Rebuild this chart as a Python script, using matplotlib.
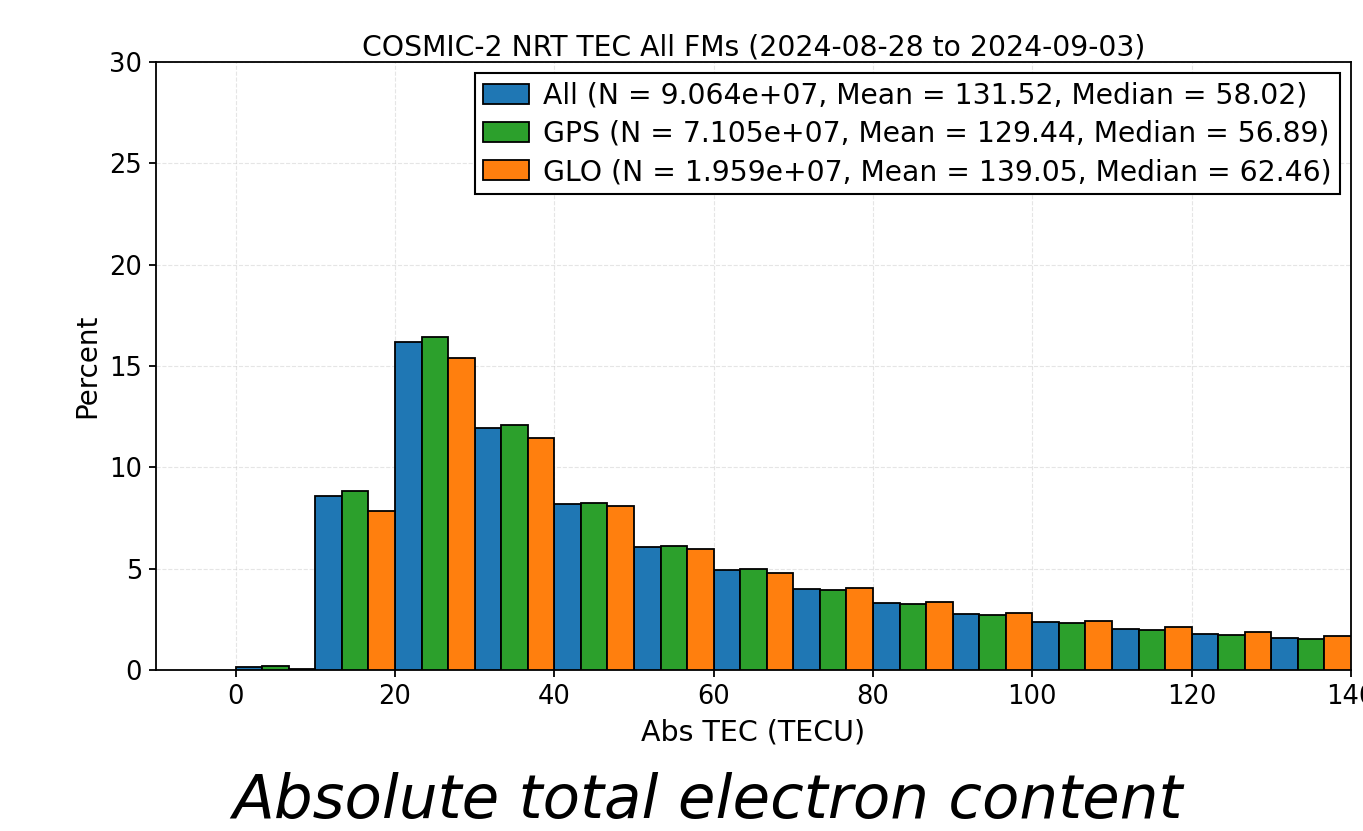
import numpy as np
import matplotlib
matplotlib.use("Agg")
import matplotlib.pyplot as plt

# Bin left edges (TECU), 10 TECU wide
bin_edges = [0, 10, 20, 30, 40, 50, 60, 70, 80, 90, 100, 110, 120, 130]

# Percent per bin
pct_all = [0.15, 8.58, 16.20, 11.92, 8.19, 6.07, 4.93, 4.00, 3.29, 2.76, 2.35, 2.01, 1.78, 1.56]
pct_gps = [0.20, 8.81, 16.41, 12.07, 8.24, 6.10, 4.98, 3.96, 3.27, 2.73, 2.32, 1.99, 1.73, 1.53]
pct_glo = [0.05, 7.87, 15.42, 11.43, 8.07, 5.95, 4.77, 4.05, 3.34, 2.81, 2.40, 2.10, 1.86, 1.66]

labels = [
    "All (N = 9.064e+07, Mean = 131.52, Median = 58.02)",
    "GPS (N = 7.105e+07, Mean = 129.44, Median = 56.89)",
    "GLO (N = 1.959e+07, Mean = 139.05, Median = 62.46)",
]
colors = ["#1f77b4", "#2ca02c", "#ff7f0e"]

fig = plt.figure(figsize=(13.63, 8.31), dpi=100, facecolor="white")
ax = fig.add_axes([0.1145, 0.1937, 0.8767, 0.7317])

bin_w = 10
bar_w = bin_w / 3
x = np.array(bin_edges, dtype=float)
for i, (vals, lab, col) in enumerate(zip([pct_all, pct_gps, pct_glo], labels, colors)):
    ax.bar(x + i * bar_w, vals, width=bar_w, align="edge", color=col,
           edgecolor="black", linewidth=1.3, label=lab, zorder=3)

ax.set_xlim(-10, 140)
ax.set_ylim(0, 30)
ax.set_xticks(np.arange(0, 141, 20))
ax.set_yticks(np.arange(0, 31, 5))
ax.tick_params(labelsize=18.5, width=1.3, length=5, pad=5)
for sp in ax.spines.values():
    sp.set_linewidth(1.3)

ax.grid(axis="both", linestyle="--", alpha=.5, color="#cccccc", zorder=0)
ax.set_axisbelow(True)

ax.set_title("COSMIC-2 NRT TEC All FMs (2024-08-28 to 2024-09-03)", fontsize=20.3, pad=5)
ax.set_xlabel("Abs TEC (TECU)", fontsize=20.5, labelpad=6)
ax.set_ylabel("Percent", fontsize=20, labelpad=6)

leg = ax.legend(loc="upper right", fontsize=20.3, fancybox=False, framealpha=1,
                edgecolor="black", borderaxespad=0.4, handlelength=1.6,
                handletextpad=0.5, labelspacing=0.36, borderpad=0.3)
leg.get_frame().set_linewidth(1.5)

fig.text(0.519, 0.0156, "Absolute total electron content", fontsize=44,
         style="oblique", family="DejaVu Sans", ha="center", va="baseline")

fig.savefig("out.png", dpi=100, facecolor="white")
